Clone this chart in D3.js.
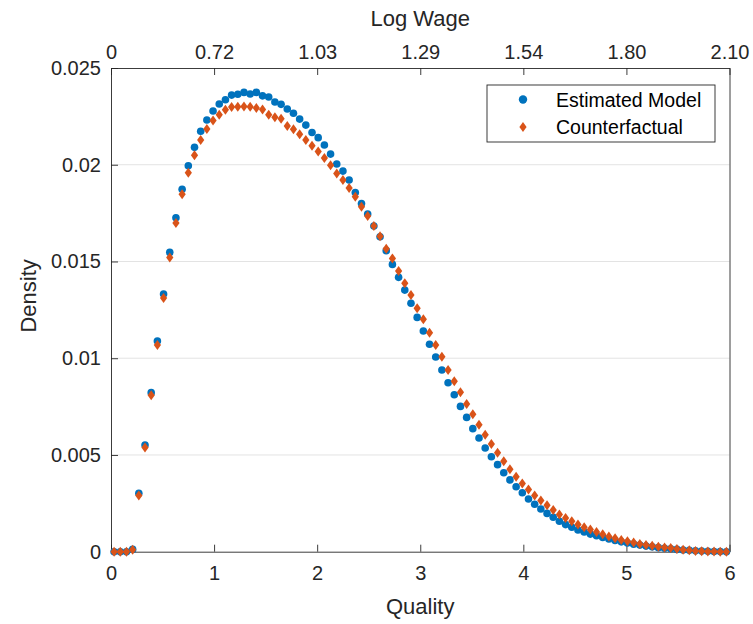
<!DOCTYPE html>
<html>
<head>
<meta charset="utf-8">
<script src="https://cdn.jsdelivr.net/npm/d3@7"></script>
<style>
  body { margin: 0; background: #fff; }
  svg { display: block; font-family: "Liberation Sans", Arial, Helvetica, sans-serif; }
</style>
</head>
<body>
<div id="chart"></div>
<script>
// bins of quality: 100 bins of width 0.06 over [0, 6], points at bin centres
const binCount = 100, binWidth = 0.06;
const quality = d3.range(binCount).map(i => (i + 0.5) * binWidth);

const estimated = [
  0, 0, 0, 0.00012, 0.00302, 0.00551, 0.00822, 0.01089, 0.01332, 0.01547,
  0.01726, 0.01873, 0.01995, 0.02090, 0.02173, 0.02231, 0.02278, 0.02314, 0.02336, 0.02360,
  0.02364, 0.02374, 0.02366, 0.02374, 0.02356, 0.02350, 0.02324, 0.02312, 0.02288, 0.02266,
  0.02236, 0.02205, 0.02167, 0.02140, 0.02102, 0.02055, 0.02004, 0.01967, 0.01921, 0.01856,
  0.01800, 0.01745, 0.01683, 0.01628, 0.01556, 0.01485, 0.01418, 0.01352, 0.01284, 0.01211,
  0.01141, 0.01072, 0.01006, 0.00939, 0.00873, 0.00811, 0.00751, 0.00694, 0.00636, 0.00588,
  0.00536, 0.00491, 0.00450, 0.00408, 0.00371, 0.00336, 0.00305, 0.00272, 0.00245, 0.00221,
  0.00198, 0.00178, 0.00157, 0.00140, 0.00126, 0.00112, 0.00102, 0.00091, 0.00083, 0.00074,
  0.00066, 0.00058, 0.00051, 0.00045, 0.00039, 0.00034, 0.00029, 0.00025, 0.00021, 0.00018,
  0.00015, 0.00012, 0.00009, 0.00007, 0.00005, 0.00003, 0.00002, 0.00001, 0.00001, 0
];

const counterfactual = [
  0, 0, 0, 0.00010, 0.00291, 0.00539, 0.00808, 0.01068, 0.01311, 0.01520,
  0.01699, 0.01847, 0.01959, 0.02049, 0.02128, 0.02185, 0.02229, 0.02258, 0.02284, 0.02298,
  0.02300, 0.02301, 0.02300, 0.02293, 0.02286, 0.02259, 0.02245, 0.02238, 0.02200, 0.02184,
  0.02157, 0.02128, 0.02098, 0.02069, 0.02035, 0.01997, 0.01955, 0.01921, 0.01880, 0.01834,
  0.01783, 0.01735, 0.01683, 0.01631, 0.01566, 0.01516, 0.01451, 0.01387, 0.01327, 0.01258,
  0.01201, 0.01132, 0.01068, 0.01008, 0.00939, 0.00881, 0.00824, 0.00763, 0.00711, 0.00656,
  0.00605, 0.00557, 0.00512, 0.00467, 0.00426, 0.00388, 0.00353, 0.00322, 0.00291, 0.00264,
  0.00240, 0.00216, 0.00192, 0.00174, 0.00157, 0.00140, 0.00126, 0.00115, 0.00102, 0.00090,
  0.00078, 0.00069, 0.00060, 0.00054, 0.00047, 0.00040, 0.00035, 0.00031, 0.00026, 0.00022,
  0.00019, 0.00014, 0.00010, 0.00007, 0.00004, 0.00002, 0.00001, 0.00001, 0, 0
];

const xTicks = [0, 1, 2, 3, 4, 5, 6];
const logWageLabels = ["0", "0.72", "1.03", "1.29", "1.54", "1.80", "2.10"];
const yTicks = [0, 0.005, 0.01, 0.015, 0.02, 0.025];
const yTickLabels = ["0", "0.005", "0.01", "0.015", "0.02", "0.025"];
const seriesNames = ["Estimated Model", "Counterfactual"];

const W = 753, H = 624;
const m = { left: 111, right: 23.5, top: 68, bottom: 72.3 };
const iw = W - m.left - m.right, ih = H - m.top - m.bottom;
const blue = "#0072BD", orange = "#D95319", ink = "#262626";

const svg = d3.select("#chart").append("svg")
  .attr("width", W)
  .attr("height", H);

const plot = svg.append("g").attr("transform", `translate(${m.left},${m.top})`);
const x = d3.scaleLinear().domain([0, 6]).range([0, iw]);
const y = d3.scaleLinear().domain([0, 0.025]).range([ih, 0]);

// horizontal grid
plot.append("g").selectAll("line")
  .data(yTicks.slice(1, -1))
  .join("line")
  .attr("x1", 0).attr("x2", iw)
  .attr("y1", d => y(d)).attr("y2", d => y(d))
  .attr("stroke", "#e3e3e3").attr("stroke-width", 1);

function styleAxis(g) {
  g.selectAll("path, line").attr("stroke", ink).attr("stroke-width", 0.9);
  g.selectAll("text").attr("fill", ink).attr("font-size", 20).attr("font-family", null);
}

plot.append("g").attr("transform", `translate(0,${ih})`)
  .call(d3.axisBottom(x).tickValues(xTicks).tickFormat(d3.format("d")).tickSizeInner(-7).tickSizeOuter(0).tickPadding(14))
  .call(styleAxis);

plot.append("g")
  .call(d3.axisTop(x).tickValues(xTicks).tickFormat((d, i) => logWageLabels[i]).tickSizeInner(-7).tickSizeOuter(0).tickPadding(9))
  .call(styleAxis);

plot.append("g")
  .call(d3.axisLeft(y).tickValues(yTicks).tickFormat((d, i) => yTickLabels[i]).tickSizeInner(-7).tickSizeOuter(0).tickPadding(10))
  .call(styleAxis);

plot.append("g").attr("transform", `translate(${iw},0)`)
  .call(d3.axisRight(y).tickValues([]).tickSizeOuter(0))
  .call(styleAxis);

// axis titles
svg.append("text").attr("x", m.left + iw / 2).attr("y", 614)
  .attr("text-anchor", "middle").attr("font-size", 22).attr("fill", ink).text("Quality");
svg.append("text").attr("x", m.left + iw / 2).attr("y", 26)
  .attr("text-anchor", "middle").attr("font-size", 22).attr("fill", ink).text("Log Wage");
svg.append("text").attr("transform", `translate(36,${m.top + ih / 2 - 14}) rotate(-90)`)
  .attr("text-anchor", "middle").attr("font-size", 22).attr("fill", ink).text("Density");

const diamond = "M0,-5L3.6,0L0,5L-3.6,0Z";

plot.append("g").selectAll("circle")
  .data(quality.map((q, i) => [q, estimated[i]]))
  .join("circle")
  .attr("cx", d => x(d[0])).attr("cy", d => y(d[1]))
  .attr("r", 3.8).attr("fill", blue);

plot.append("g").selectAll("path")
  .data(quality.map((q, i) => [q, counterfactual[i]]))
  .join("path")
  .attr("transform", d => `translate(${x(d[0])},${y(d[1])})`)
  .attr("d", diamond).attr("fill", orange);

// legend
const lg = svg.append("g").attr("transform", "translate(487,85)");
lg.append("rect").attr("width", 228).attr("height", 57)
  .attr("fill", "#fff").attr("stroke", ink).attr("stroke-width", 0.9);
seriesNames.forEach((name, i) => {
  const cy = 14.5 + i * 27.5;
  if (i === 0) lg.append("circle").attr("cx", 36).attr("cy", cy).attr("r", 4.2).attr("fill", blue);
  else lg.append("path").attr("transform", `translate(36,${cy})`).attr("d", diamond).attr("fill", orange);
  lg.append("text").attr("x", 69).attr("y", cy + 7).attr("font-size", 19.5).attr("fill", "#000").text(name);
});
</script>
</body>
</html>
